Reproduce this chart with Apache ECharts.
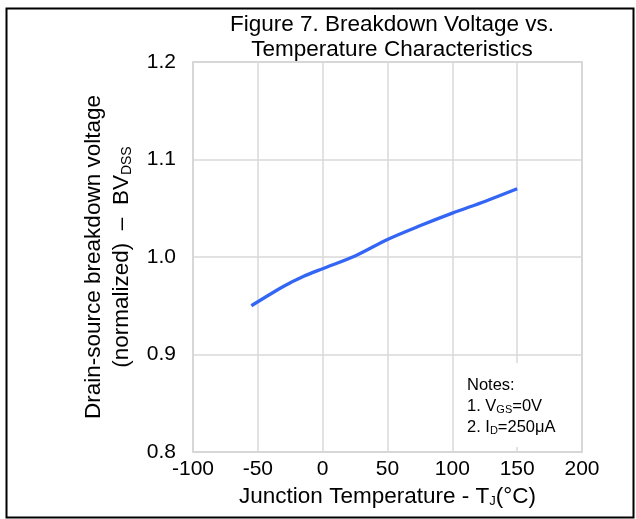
<!DOCTYPE html>
<html>
<head>
<meta charset="utf-8">
<script src="https://cdn.jsdelivr.net/npm/echarts@6/dist/echarts.min.js"></script>
<style>
  html, body { margin: 0; padding: 0; background: #fff; }
  #chart { width: 636px; height: 519px; }
</style>
</head>
<body>
<div id="chart"></div>
<script>
const temps = [-55, -30, -15, 0, 25, 50, 75, 100, 125, 150]
const bvdss = [0.950, 0.970, 0.980, 0.988, 1.001, 1.018, 1.032, 1.045, 1.057, 1.070]
const xTicks = [-100, -50, 0, 50, 100, 150, 200]
const yTicks = [0.8, 0.9, 1.0, 1.1, 1.2]

const font = 'Liberation Sans, Arial, sans-serif'
const chart = echarts.init(document.getElementById('chart'))

const option = {
  animation: false,
  title: {
    text: 'Figure 7. Breakdown Voltage vs.\nTemperature Characteristics',
    left: 387,
    top: 8,
    textAlign: 'center',
    textStyle: { fontFamily: font, fontSize: 22.5, fontWeight: 'normal', color: '#000', lineHeight: 24.5 }
  },
  grid: {
    left: 193, right: 54, top: 62, bottom: 67,
    show: true, borderColor: '#c4c4c4', borderWidth: 1.5
  },
  xAxis: {
    type: 'value',
    min: xTicks[0], max: xTicks[xTicks.length - 1], interval: 50,
    name: 'Junction Temperature - T{sub|J}(°C)',
    nameLocation: 'middle', nameGap: 32,
    nameTextStyle: {
      fontFamily: font, fontSize: 22.5, color: '#000',
      rich: { sub: { fontFamily: font, fontSize: 13, color: '#000', padding: [10, 0, 0, 0] } }
    },
    axisLine: { show: false },
    axisTick: { show: false },
    axisLabel: { fontFamily: font, fontSize: 21, color: '#000', margin: 7 },
    splitLine: { lineStyle: { color: '#d9d9d9', width: 1.5 } }
  },
  yAxis: {
    type: 'value',
    min: yTicks[0], max: yTicks[yTicks.length - 1], interval: 0.1,
    name: 'Drain-source breakdown voltage\n(normalized)  –  BV{sub|DSS}',
    nameLocation: 'middle', nameGap: 54, nameRotate: 90,
    nameTextStyle: {
      fontFamily: font, fontSize: 22.5, color: '#000', lineHeight: 28, align: 'center',
      rich: { sub: { fontFamily: font, fontSize: 14, color: '#000', lineHeight: 28, padding: [10, 0, 0, 0] } }
    },
    axisLine: { show: false },
    axisTick: { show: false },
    axisLabel: {
      fontFamily: font, fontSize: 21, color: '#000', margin: 17,
      formatter: v => v.toFixed(1)
    },
    splitLine: { lineStyle: { color: '#d9d9d9', width: 1.5 } }
  },
  graphic: [
    {
      type: 'rect', left: 4, top: 6, z: 100, silent: true,
      shape: { width: 627, height: 509 },
      style: { fill: 'none', stroke: '#000', lineWidth: 2 }
    },
    {
      type: 'rect', left: 455, top: 363, z: 50,
      shape: { width: 125, height: 84 },
      style: { fill: '#fff' }
    },
    {
      type: 'text', left: 467, top: 375, z: 60,
      style: {
        text: 'Notes:\n1. V{sub|GS}=0V\n2. I{sub|D}=250μA',
        fontFamily: font, fontSize: 16.5, fill: '#000', lineHeight: 21,
        rich: { sub: { fontFamily: font, fontSize: 11, fill: '#000', lineHeight: 21, padding: [6, 0, 0, 0] } }
      }
    }
  ],
  series: [{
    type: 'line',
    data: temps.map((t, i) => [t, bvdss[i]]),
    smooth: 0.3,
    showSymbol: false,
    lineStyle: { color: '#3366f5', width: 3.3 }
  }]
}
chart.setOption(option)
</script>
</body>
</html>
